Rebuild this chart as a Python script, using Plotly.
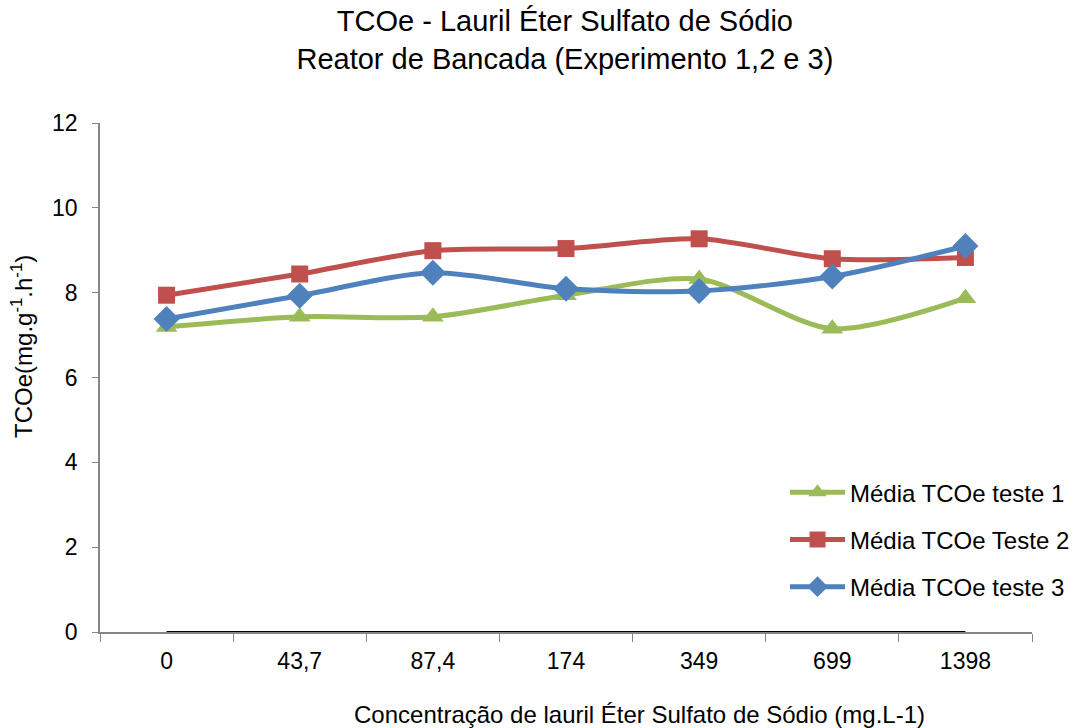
import plotly.graph_objects as go

categories = ["0", "43,7", "87,4", "174", "349", "699", "1398"]
teste1 = [7.19, 7.43, 7.43, 7.94, 8.32, 7.15, 7.87]
teste2 = [7.94, 8.44, 8.99, 9.04, 9.27, 8.80, 8.83]
teste3 = [7.38, 7.93, 8.47, 8.09, 8.04, 8.38, 9.10]
baseline = [0, 0, 0, 0, 0, 0, 0]

font = "Liberation Sans, Arial, sans-serif"

fig = go.Figure()
fig.add_trace(go.Scatter(x=categories, y=baseline, mode="lines",
                         line=dict(color="black", width=2),
                         showlegend=False, hoverinfo="skip"))
series = [
    ("Média TCOe teste 1", teste1, "#9BBB59", "triangle-up", 19),
    ("Média TCOe Teste 2", teste2, "#C0504D", "square", 17),
    ("Média TCOe teste 3", teste3, "#4F81BD", "diamond", 20),
]
for i, (name, vals, color, sym, size) in enumerate(series):
    fig.add_trace(go.Scatter(
        x=categories, y=vals, name=name, mode="lines+markers",
        line=dict(color=color, width=5, shape="spline", smoothing=0.8),
        marker=dict(symbol=sym, size=size, color=color),
        legendgroup=f"g{i}",
    ))

fig.update_layout(
    width=1076, height=728,
    paper_bgcolor="white", plot_bgcolor="white",
    margin=dict(l=100, r=44, t=123, b=96, autoexpand=False),
    font=dict(family=font, size=23, color="black"),
    title=dict(text="TCOe - Lauril Éter Sulfato de Sódio<br>Reator de Bancada (Experimento 1,2 e 3)",
               x=0.525, xanchor="center", y=0.9576, yanchor="top",
               font=dict(family=font, size=29, color="black")),
    showlegend=True,
    legend=dict(x=0.735, y=0.318, xanchor="left", yanchor="top",
                bgcolor="rgba(0,0,0,0)", font=dict(family=font, size=24),
                tracegroupgap=13, itemwidth=55),
    xaxis=dict(type="category", showgrid=False, showline=True, linecolor="#868686",
               linewidth=1.5, ticks="outside", tickson="boundaries", ticklen=8,
               tickcolor="#868686", tickfont=dict(size=23), zeroline=False,
               ticklabelstandoff=8, range=[-0.5, 6.5], automargin=False),
    yaxis=dict(range=[0, 12], dtick=2, showgrid=False, showline=True,
               linecolor="#868686", linewidth=1.5, ticks="outside", ticklen=6,
               tickcolor="#868686", tickfont=dict(size=23), zeroline=False,
               ticklabelstandoff=10, automargin=False),
    annotations=[
        dict(text="Concentração de lauril Éter Sulfato de Sódio (mg.L-1)",
             xref="paper", yref="paper", x=0.579, y=-0.163,
             xanchor="center", yanchor="middle", showarrow=False,
             font=dict(family=font, size=24)),
        dict(text="TCOe(mg.g<sup>-1</sup>.h<sup>-1</sup>)",
             xref="paper", yref="paper", x=-0.0837, y=0.562, textangle=-90,
             xanchor="center", yanchor="middle", showarrow=False,
             font=dict(family=font, size=24)),
    ],
)

fig.write_html("out.html", config={"displayModeBar": False},
               post_script="document.body.style.margin='0';document.body.style.overflow='hidden';")
